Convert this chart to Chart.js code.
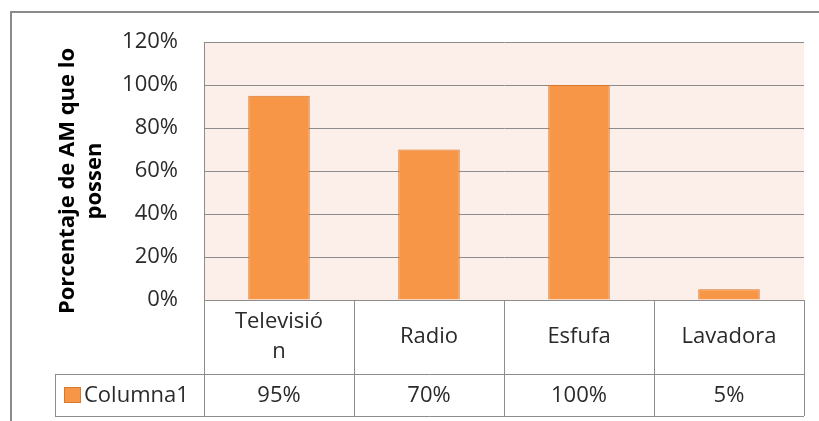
<!DOCTYPE html>
<html>
<head>
<meta charset="utf-8">
<script src="https://cdn.jsdelivr.net/npm/chart.js@4"></script>
<style>
  body { margin: 0; background: #fff; }
</style>
</head>
<body>
<canvas id="chart" width="819" height="421"></canvas>
<script>
// chart data
const categories = ['Televisión', 'Radio', 'Esfufa', 'Lavadora'];
const seriesName = 'Columna1';
const values = [0.95, 0.70, 1.00, 0.05];
const yTitleLines = ['Porcentaje de AM que lo', 'possen'];

const FONT = '"Open Sans", sans-serif';
const TEXT = '#2a2a2a';
const LINE = '#8c8c8c';
const BAR = '#F79646';
const BAR_EDGE = '#D9782F';

function pct(v) {
  return Math.round(v * 100) + '%';
}

// break a label by characters when it is wider than the cell allows
function wrapChars(ctx, text, maxW) {
  const lines = [];
  let cur = '';
  for (const ch of text) {
    if (cur && ctx.measureText(cur + ch).width > maxW) {
      lines.push(cur);
      cur = ch;
    } else {
      cur += ch;
    }
  }
  if (cur) lines.push(cur);
  return lines;
}

const tablePlugin = {
  id: 'excelTable',
  beforeDraw(chart) {
    const { ctx, chartArea: a } = chart;
    ctx.save();
    // outer frame (cut off at right / bottom)
    ctx.strokeStyle = '#8a8a8a';
    ctx.lineWidth = 2;
    ctx.beginPath();
    ctx.moveTo(11, 421);
    ctx.lineTo(11, 12);
    ctx.lineTo(819, 12);
    ctx.stroke();
    // plot background
    ctx.fillStyle = '#FCEEE9';
    ctx.fillRect(a.left, a.top, a.right - a.left, a.bottom - a.top);
    ctx.restore();
  },
  afterDraw(chart) {
    const { ctx, chartArea: a } = chart;
    const xs = chart.scales.x;
    const half = (a.right - a.left) / categories.length / 2;
    const row1 = a.bottom + 74;
    const row2 = row1 + 42;
    const legendLeft = 55;

    ctx.save();
    ctx.strokeStyle = LINE;
    ctx.lineWidth = 1;
    ctx.beginPath();
    ctx.moveTo(a.left, a.bottom + 0.5);
    ctx.lineTo(a.right, a.bottom + 0.5);
    ctx.moveTo(legendLeft, row1 + 0.5);
    ctx.lineTo(a.right, row1 + 0.5);
    ctx.moveTo(legendLeft, row2 + 0.5);
    ctx.lineTo(a.right, row2 + 0.5);
    ctx.moveTo(legendLeft + 0.5, row1);
    ctx.lineTo(legendLeft + 0.5, row2);
    categories.forEach((c, i) => {
      const x = Math.round(xs.getPixelForValue(i) - half) + 0.5;
      ctx.moveTo(x, a.bottom);
      ctx.lineTo(x, row2);
    });
    const xr = Math.round(a.right) + 0.5;
    ctx.moveTo(xr, a.bottom);
    ctx.lineTo(xr, row2);
    ctx.stroke();

    ctx.fillStyle = TEXT;
    ctx.font = '22px ' + FONT;
    ctx.textAlign = 'center';
    ctx.textBaseline = 'middle';
    categories.forEach((c, i) => {
      const cx = xs.getPixelForValue(i);
      const lines = wrapChars(ctx, c, 96);
      const lh = 30;
      const midY = (a.bottom + row1) / 2;
      lines.forEach((ln, k) => {
        ctx.fillText(ln, cx, midY + (k - (lines.length - 1) / 2) * lh);
      });
      ctx.fillText(pct(values[i]), cx, (row1 + row2) / 2 + 1);
    });

    // legend key in the table
    const keyY = (row1 + row2) / 2;
    ctx.fillStyle = BAR;
    ctx.fillRect(64, keyY - 8, 17, 16);
    ctx.strokeStyle = BAR_EDGE;
    ctx.strokeRect(64.5, keyY - 7.5, 16, 15);
    ctx.fillStyle = TEXT;
    ctx.textAlign = 'left';
    ctx.fillText(seriesName, 84, keyY + 1);

    // y axis title
    ctx.font = 'bold 22px ' + FONT;
    ctx.fillStyle = '#000';
    ctx.textAlign = 'center';
    ctx.translate(0, 181);
    ctx.rotate(-Math.PI / 2);
    yTitleLines.forEach((t, k) => {
      ctx.fillText(t, 0, 68 + k * 27);
    });
    ctx.restore();
  }
};

new Chart(document.getElementById('chart'), {
  type: 'bar',
  data: {
    labels: categories,
    datasets: [{
      label: seriesName,
      data: values,
      backgroundColor: BAR,
      borderColor: BAR_EDGE,
      borderWidth: 1,
      barPercentage: 0.41,
      categoryPercentage: 1.0
    }]
  },
  options: {
    responsive: false,
    animation: false,
    layout: { padding: { top: 42, right: 15, bottom: 121, left: 0 } },
    plugins: {
      legend: { display: false },
      tooltip: { enabled: false }
    },
    scales: {
      x: { display: false },
      y: {
        min: 0,
        max: 1.2,
        afterFit(scale) { scale.width = 204; },
        ticks: {
          stepSize: 0.2,
          padding: 26,
          color: TEXT,
          font: { family: FONT, size: 22 },
          callback: v => pct(v)
        },
        grid: { color: LINE, lineWidth: 1, drawTicks: false },
        border: { display: true, color: LINE }
      }
    }
  },
  plugins: [tablePlugin]
});
</script>
</body>
</html>
